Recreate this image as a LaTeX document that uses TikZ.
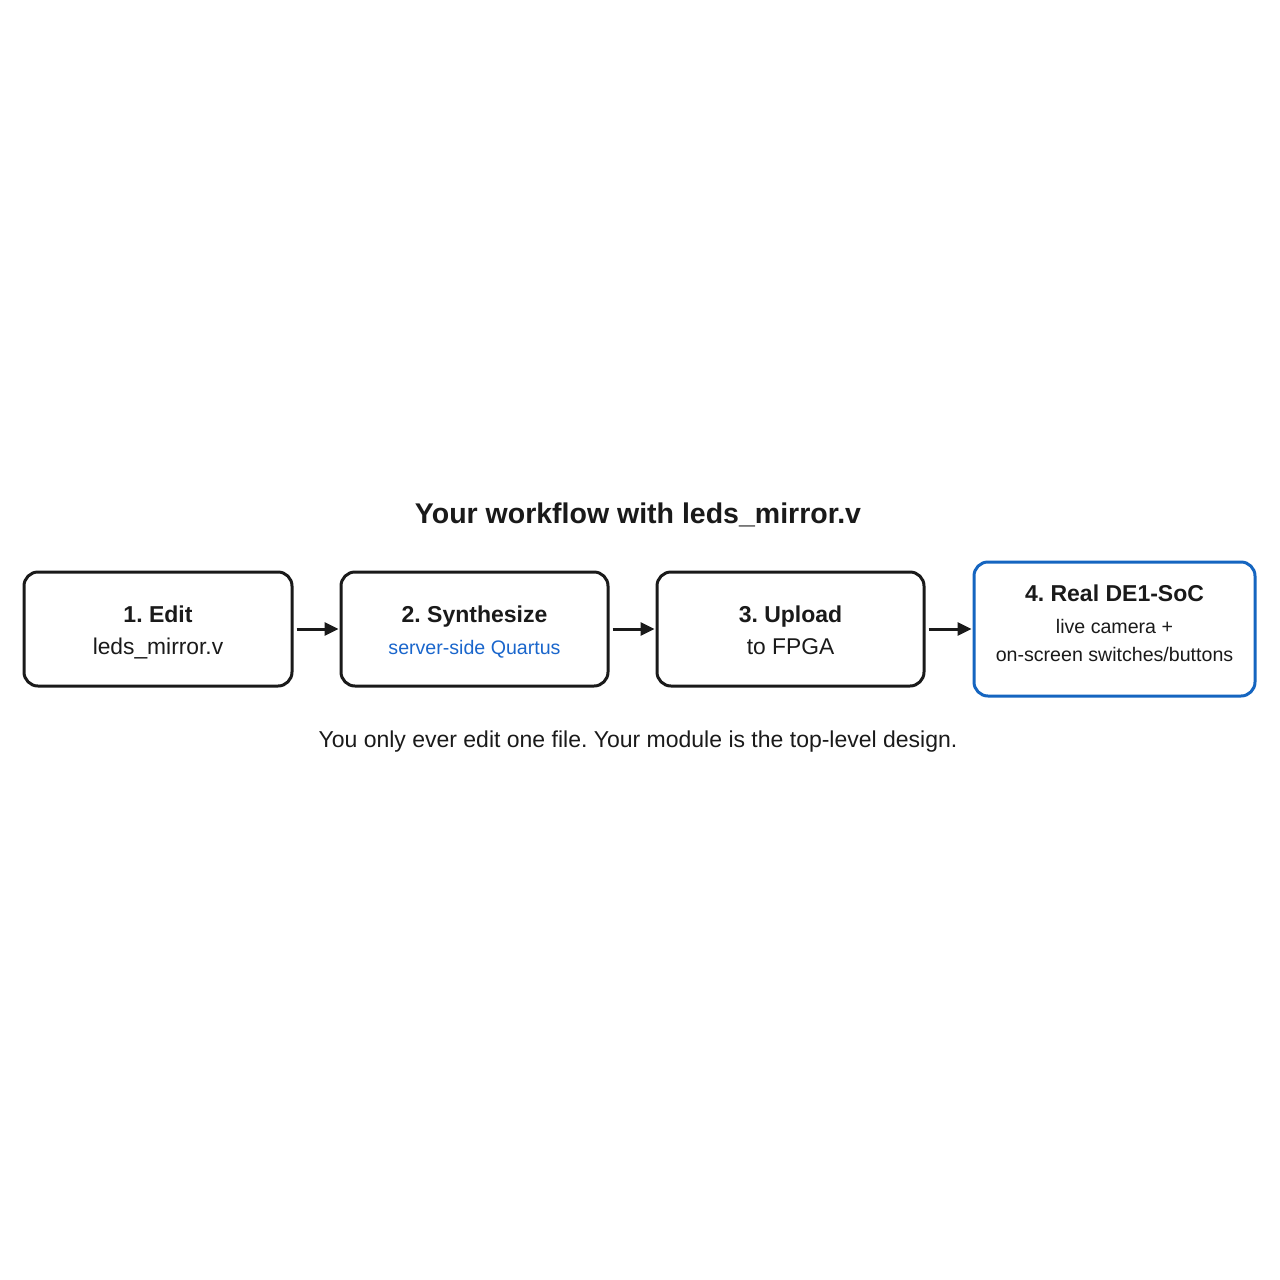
\documentclass[tikz,border=0pt]{standalone}
\usepackage{fontspec}
\setmainfont{Liberation Sans}
\usetikzlibrary{arrows.meta}
\definecolor{ink}{HTML}{1A1A1A}
\definecolor{accent}{HTML}{1565C0}
\definecolor{bluetxt}{HTML}{1A66CC}
\frenchspacing
\begin{document}
\begin{tikzpicture}[x=1pt,y=-1pt,
  box/.style={draw=ink, line width=3pt, rounded corners=14pt, fill=white, inner sep=0pt},
  hlbox/.style={box, draw=accent},
  head/.style={font=\bfseries\fontsize{23}{27}\selectfont, text=ink, inner sep=0pt, anchor=base},
  sub/.style={font=\fontsize{22.8}{27}\selectfont, text=ink, inner sep=0pt, anchor=base},
  small/.style={font=\fontsize{19.6}{23}\selectfont, text=ink, inner sep=0pt, anchor=base},
  conn/.style={draw=ink, line width=3pt, -{Triangle[length=14pt,width=13pt]}, shorten >=1pt, shorten <=3pt}
]
\useasboundingbox (0,0) rectangle (1280,1280);
\fill[white] (0,0) rectangle (1280,1280);

\node[font=\bfseries\fontsize{28.5}{33}\selectfont, text=ink, inner sep=0pt, anchor=base] (title) at (638,523) {Your workflow with leds\_mirror.v};

\node[box, minimum width=268pt, minimum height=114pt] (b1) at (158,629) {};
\node[box, minimum width=267pt, minimum height=114pt] (b2) at (474.5,629) {};
\node[box, minimum width=267pt, minimum height=114pt] (b3) at (790.5,629) {};
\node[hlbox, minimum width=281pt, minimum height=134pt] (b4) at (1114.5,629) {};

\node[head] (t1) at ([yshift=7pt]b1.center) {1. Edit};
\node[sub] (s1) at ([yshift=-25.5pt]b1.center) {leds\_mirror.v};

\node[head] (t2) at ([yshift=7pt]b2.center) {2. Synthesize};
\node[small, text=bluetxt] (s2) at ([yshift=-25.5pt]b2.center) {server-side Quartus};

\node[head] (t3) at ([yshift=7pt]b3.center) {3. Upload};
\node[sub] (s3) at ([yshift=-25.5pt]b3.center) {to FPGA};

\node[head] (t4) at ([yshift=28pt]b4.center) {4. Real DE1-SoC};
\node[small] (s4a) at ([yshift=-4pt]b4.center) {live camera +};
\node[small] (s4b) at ([yshift=-32pt]b4.center) {on-screen switches/buttons};

\draw[conn] (b1.east) -- (b2.west);
\draw[conn] (b2.east) -- (b3.west);
\draw[conn] (b3.east) -- (b4.west);

\node[font=\fontsize{23}{27}\selectfont, text=ink, inner sep=0pt, anchor=base] (foot) at (638,747) {You only ever edit one file. Your module is the top-level design.};
\end{tikzpicture}
\end{document}
